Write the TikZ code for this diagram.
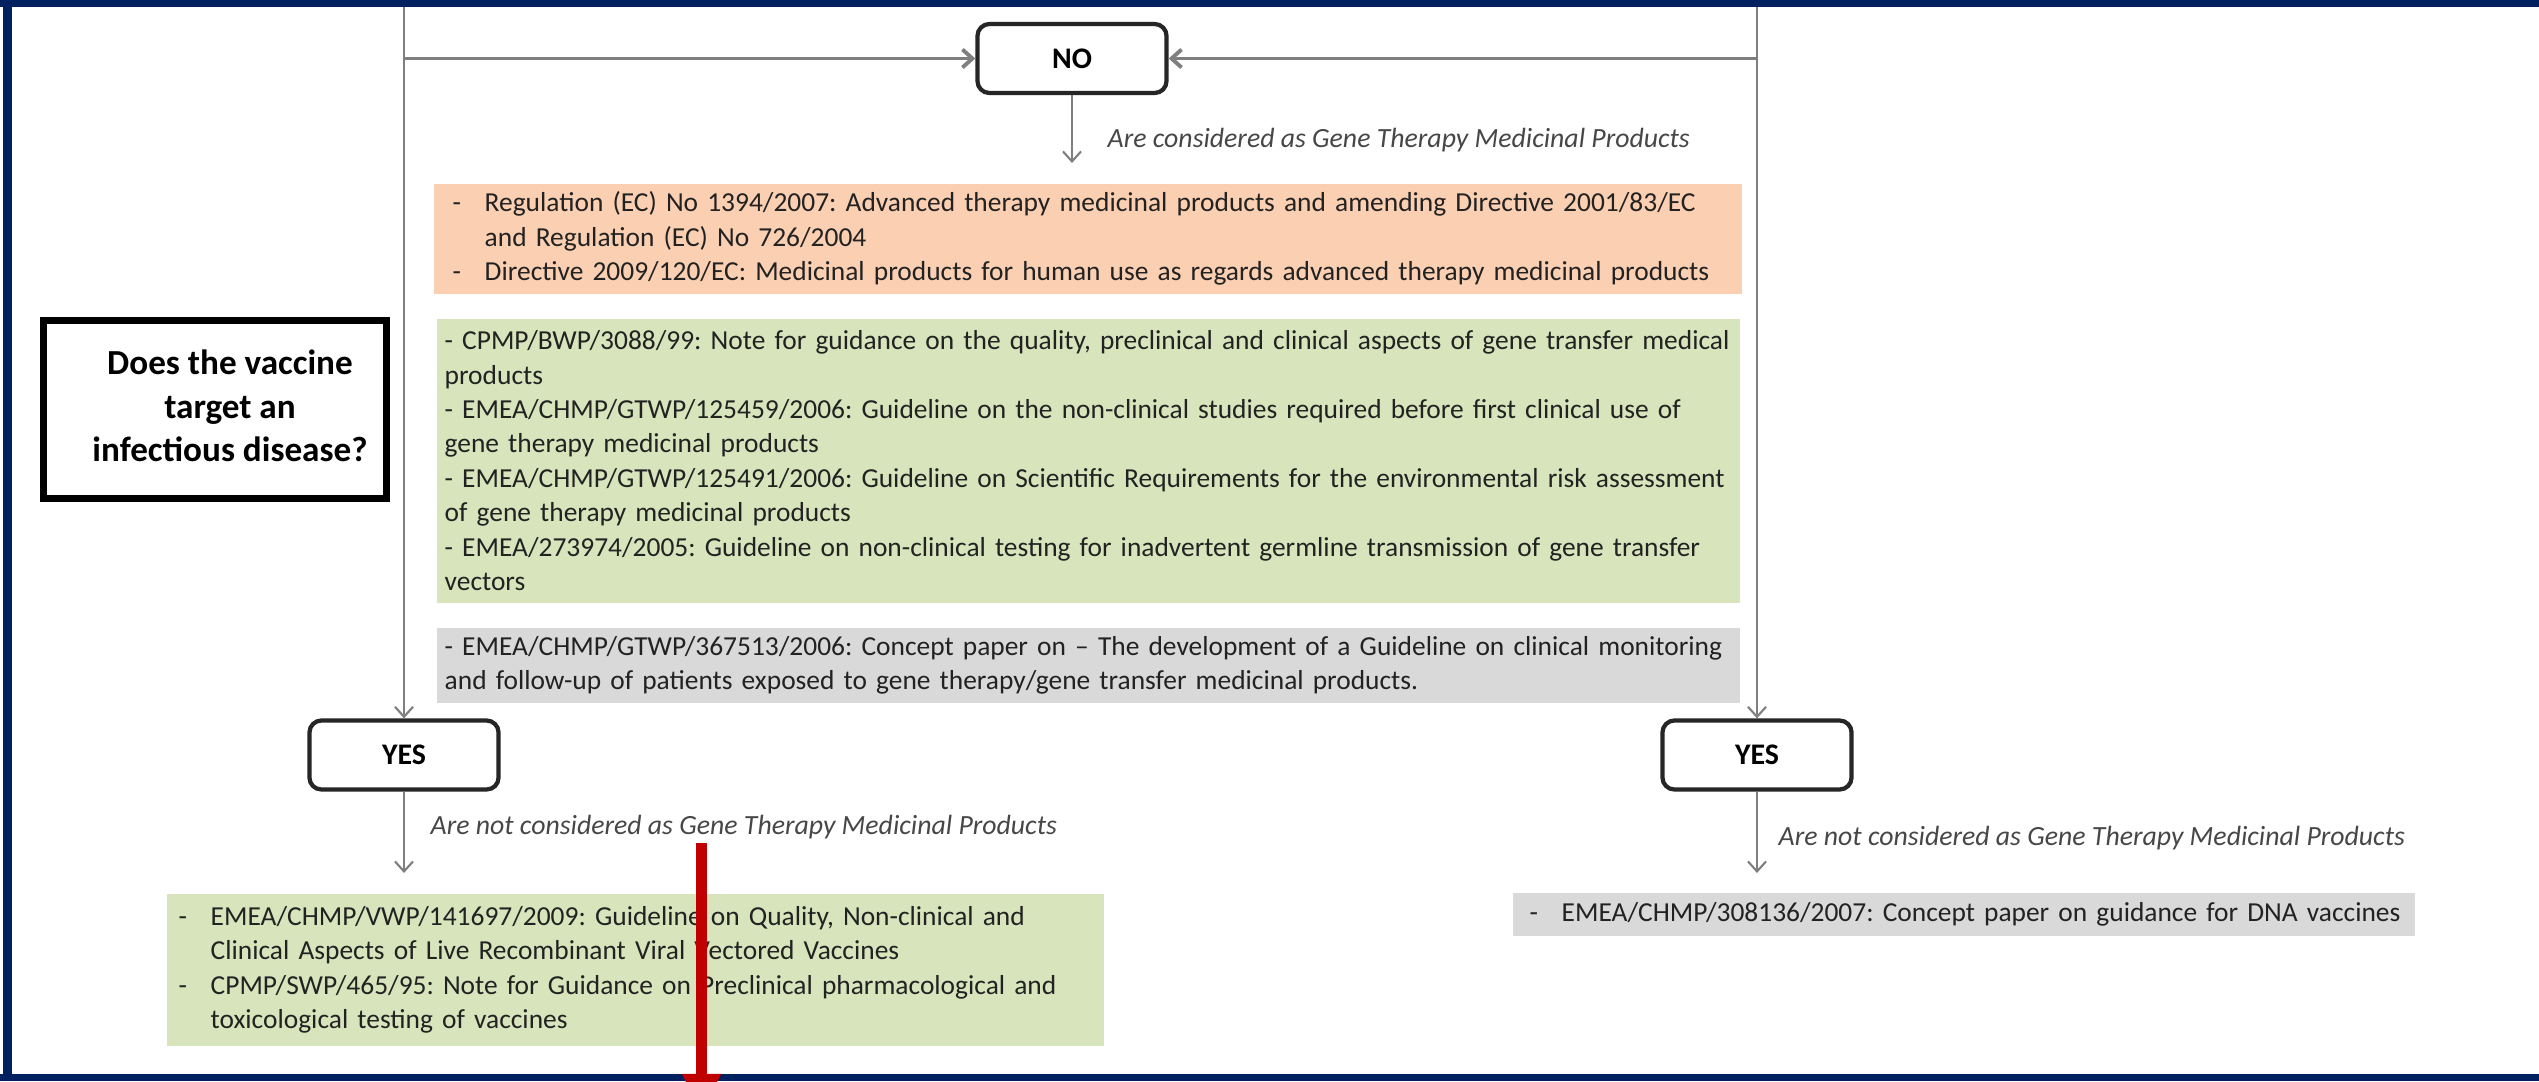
\documentclass[tikz,border=0pt]{standalone}
\usepackage{fontspec}
\setmainfont{Carlito}
\usepackage{tikz}
\usetikzlibrary{arrows.meta}
\usepackage{xcolor}

\definecolor{navyframe}{HTML}{002060}
\definecolor{regorange}{HTML}{FBCFB2}
\definecolor{guidegreen}{HTML}{D8E4BC}
\definecolor{papergray}{HTML}{D9D9D9}
\definecolor{markred}{HTML}{C00000}
\definecolor{flowgray}{HTML}{7F7F7F}
\definecolor{textgray}{HTML}{222222}

\frenchspacing
\newcommand{\dashitem}{\makebox[0.32cm][l]{-}}
\newcommand{\dashcont}{\hspace*{0.32cm}}

\begin{document}
\begin{tikzpicture}[x=0.01cm, y=-0.01cm,
    answer/.style={draw=black!85, line width=1.2pt, rounded corners=1.2mm, fill=white,
      minimum width=1.89cm, minimum height=0.69cm, font=\fontsize{8.5}{10}\selectfont\bfseries},
    docbox/.style={anchor=north west, align=left, text=textgray, inner ysep=0pt,
      font=\fontsize{7.8}{9.8}\selectfont\frenchspacing},
    verdict/.style={anchor=west, inner sep=0pt, text=black!72,
      font=\fontsize{7.9}{9.8}\selectfont\itshape},
    flow/.style={draw=flowgray, line width=0.6pt, -{Straight Barb[length=1mm,width=1.8mm]}}]

  \fill[white] (0,0) rectangle (2539,1081);
  \useasboundingbox (0,0) rectangle (2539,1081);

  \node[draw=black, line width=2pt, minimum width=3.43cm, minimum height=1.78cm,
    font=\fontsize{10}{12.4}\selectfont\bfseries] (question) at (215,409.5)
    {\begin{tabular}{@{\hspace{0.3cm}}c@{}}Does the vaccine\\ target an\\ infectious disease?\end{tabular}};

  \node[answer] (no) at (1072,58.5) {NO};
  \node[answer] (yesL) at (404,755) {YES};
  \node[answer] (yesR) at (1757,755) {YES};

  \coordinate (leftin) at (404,7);
  \coordinate (rightin) at (1757,7);
  \coordinate (noend) at (1072,163);
  \coordinate (yesLend) at (404,873);
  \coordinate (yesRend) at (1757,873);

  \draw[flow] (leftin) -- (yesL.north);
  \draw[flow] (rightin) -- (yesR.north);
  \draw[flow, line width=1.1pt] (leftin |- no.west) -- (no.west);
  \draw[flow, line width=1.1pt] (rightin |- no.east) -- (no.east);
  \draw[flow] (no.south) -- (noend);
  \draw[flow] (yesL.south) -- (yesLend);
  \draw[flow] (yesR.south) -- (yesRend);

  \node[verdict] (gtmpnote) at (1107,140) {Are considered as Gene Therapy Medicinal Products};
  \node[verdict] (notgtmpL) at (430,827) {Are not considered as Gene Therapy Medicinal Products};
  \node[verdict] (notgtmpR) at (1778,838) {Are not considered as Gene Therapy Medicinal Products};

  \node[docbox, fill=regorange, minimum width=13.08cm, minimum height=1.10cm,
    text width=12.70cm, inner xsep=0.19cm] (reg) at (433,183)
    {\mbox{\dashitem Regulation (EC) No 1394/2007: Advanced therapy medicinal products and amending Directive 2001/83/EC}\\
     \mbox{\dashcont and Regulation (EC) No 726/2004}\\
     \mbox{\dashitem Directive 2009/120/EC: Medicinal products for human use as regards advanced therapy medicinal products}};

  \node[docbox, fill=guidegreen, minimum width=13.03cm, minimum height=2.84cm,
    text width=12.87cm, inner xsep=0.08cm] (gtmp) at (436,318)
    {\mbox{- CPMP/BWP/3088/99:\ Note for guidance on the quality, preclinical and clinical aspects of gene transfer medical}\\
     products\\
     \mbox{- EMEA/CHMP/GTWP/125459/2006: Guideline on the non-clinical studies required before first clinical use of}\\
     gene therapy medicinal products\\
     \mbox{- EMEA/CHMP/GTWP/125491/2006: Guideline on Scientific Requirements for the environmental risk assessment}\\
     of gene therapy medicinal products\\
     \mbox{- EMEA/273974/2005: Guideline on non-clinical testing for inadvertent germline transmission of gene transfer}\\
     vectors};

  \node[docbox, fill=papergray, minimum width=13.03cm, minimum height=0.75cm,
    text width=12.87cm, inner xsep=0.08cm] (monitor) at (436,627)
    {\mbox{- EMEA/CHMP/GTWP/367513/2006: Concept paper on -- The development of a Guideline on clinical monitoring}\\
     \mbox{and follow-up of patients exposed to gene therapy/gene transfer medicinal products.}};

  \node[docbox, fill=guidegreen, minimum width=9.37cm, minimum height=1.52cm,
    text width=9.13cm, inner xsep=0.12cm] (vaccines) at (166,893)
    {\mbox{\dashitem EMEA/CHMP/VWP/141697/2009: Guideline on Quality, Non-clinical and}\\
     \mbox{\dashcont Clinical Aspects of Live Recombinant Viral Vectored Vaccines}\\
     \mbox{\dashitem CPMP/SWP/465/95: Note for Guidance on Preclinical pharmacological and}\\
     \mbox{\dashcont toxicological testing of vaccines}};

  \node[docbox, fill=papergray, minimum width=9.02cm, minimum height=0.43cm,
    text width=8.68cm, inner xsep=0.17cm] (dna) at (1512,892)
    {\mbox{\dashitem EMEA/CHMP/308136/2007: Concept paper on guidance for DNA vaccines}};

  \fill[navyframe] (0,0) rectangle (2539,7);
  \fill[navyframe] (0,1074) rectangle (2539,1081);
  \fill[navyframe] (3,0) rectangle (12,1081);

  \coordinate (marktop) at (701.5,843);
  \coordinate (markend) at (701.5,1114);
  \draw[markred, line width=0.11cm, -{Triangle[length=0.4cm,width=0.36cm]}] (marktop) -- (markend);

\end{tikzpicture}
\end{document}
